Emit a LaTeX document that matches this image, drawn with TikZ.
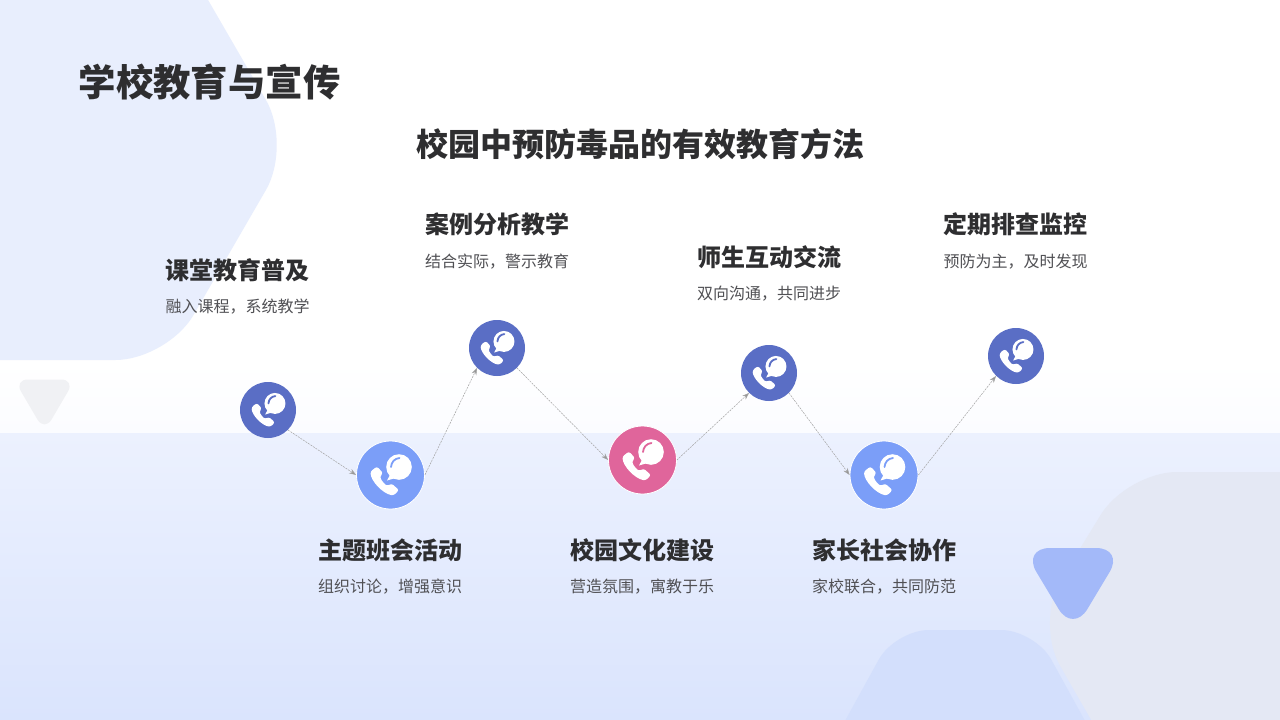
\documentclass[tikz,border=0pt]{standalone}
\usepackage{fontspec}
\setmainfont{Noto Sans CJK SC}
\usetikzlibrary{arrows.meta}
\definecolor{darkblue}{HTML}{5A6EC5}
\definecolor{lightblue}{HTML}{7B9EF8}
\definecolor{pinkc}{HTML}{E0659B}
\definecolor{inkc}{HTML}{2E2E30}
\definecolor{descc}{HTML}{505054}
\definecolor{bgA}{HTML}{FBFCFF}
\definecolor{bgB}{HTML}{ECF1FE}
\definecolor{bgC}{HTML}{DAE4FD}
\definecolor{hexB}{HTML}{E8EEFD}
\definecolor{hexC}{HTML}{E4E8F4}
\definecolor{hexD}{HTML}{D3DFFC}
\definecolor{triA}{HTML}{F0F1F4}
\definecolor{triB}{HTML}{A3B9F9}
\tikzset{
  titletext/.style={inner sep=0pt,text=inkc,font=\fontsize{37.4}{37.4}\selectfont\bfseries},
  subtext/.style={inner sep=0pt,text=inkc,font=\fontsize{32}{32}\selectfont\bfseries},
  headtext/.style={inner sep=0pt,text=inkc,font=\fontsize{24}{24}\selectfont\bfseries},
  desctext/.style={inner sep=0pt,text=descc,font=\fontsize{16}{16}\selectfont},
  smalldot/.style={circle,fill=darkblue,minimum size=56pt,inner sep=0pt},
  bigdot/.style={circle,draw=white,line width=0.8pt,minimum size=68pt,inner sep=0pt},
  link/.style={draw=black!36,line width=0.5pt,dash pattern=on 2pt off 1pt,-{Stealth[length=7pt,width=5pt,fill=black!42]}}
}
\newcommand{\phoneat}[3]{%
  \begin{scope}[shift={(#1.center)},scale=#2]
    \fill[white] (8.5,-8) circle (12.8);
    \fill[white] (0,-1) -- (-3.5,5.5) -- (5,3) -- cycle;
    \draw[#3,line width=1.8pt,line cap=round] (0.5,-8) .. controls (1,-13) and (4,-16.5) .. (9,-17);
    \fill[white,rounded corners=2.2pt] (-13.5,-8.5) -- (-20,-3.5) .. controls (-19.5,6) and (-8,18.5) .. (3,20.5) -- (8.5,15) -- (1,8.5) -- (-3,11) .. controls (-6,9) and (-9,5.5) .. (-10.5,1.5) -- (-7.5,-2) -- cycle;
  \end{scope}}
\begin{document}
\begin{tikzpicture}[x=1pt,y=-1pt]
\useasboundingbox (0,0) rectangle (1280,720);
% background
\fill[white] (0,0) rectangle (1280,360);
\fill[top color=white,bottom color=bgA] (0,360) rectangle (1280,433);
\fill[top color=bgB,bottom color=bgC] (0,433) rectangle (1280,720);
% decorative shapes
\begin{scope}
\clip (0,0) rectangle (1280,720);
\fill[hexB,rounded corners=52pt]
  (-100,-110) -- (144.4,-110) -- (292,145) -- (167.5,360) -- (-100,360) -- cycle;
\fill[hexC,rounded corners=50pt]
  (1400,472) -- (1127,472) -- (1035,622) -- (1120,770) -- (1400,770) -- cycle;
\fill[hexD,rounded corners=34pt]
  (818,770) -- (895,630) -- (1035,630) -- (1112,770) -- cycle;
\end{scope}
\fill[triA,rounded corners=14pt] (14,379.5) -- (75,379.5) -- (44.5,431.5) -- cycle;
\fill[triB,rounded corners=28pt] (1022,548) -- (1124,548) -- (1073,633) -- cycle;
% circles
\node[smalldot] (n1) at (268,410) {};
\node[bigdot,fill=lightblue] (n2) at (390.5,475) {};
\node[smalldot] (n3) at (497,348) {};
\node[bigdot,fill=pinkc] (n4) at (642.5,460) {};
\node[smalldot] (n5) at (769,373) {};
\node[bigdot,fill=lightblue] (n6) at (884,475) {};
\node[smalldot] (n7) at (1016,356) {};
% connectors
\draw[link] (n1.-45) -- (n2.west);
\draw[link] (n2.east) -- (n3.-135);
\draw[link] (n3.-45) -- (n4.west);
\draw[link] (n4.east) -- (n5.-135);
\draw[link] (n5.-45) -- (n6.west);
\draw[link] (n6.east) -- (n7.-135);
% icons
\phoneat{n1}{0.82}{darkblue}
\phoneat{n2}{1}{lightblue}
\phoneat{n3}{0.82}{darkblue}
\phoneat{n4}{1}{pinkc}
\phoneat{n5}{0.82}{darkblue}
\phoneat{n6}{1}{lightblue}
\phoneat{n7}{0.82}{darkblue}
% text
\node[titletext,anchor=west] (title) at (78.5,82) {学校教育与宣传};
\node[subtext] (sub) at (640,144) {校园中预防毒品的有效教育方法};
\node[headtext] (h1) at (237.5,270) {课堂教育普及};
\node[desctext] (d1) at (237.5,307) {融入课程，系统教学};
\node[headtext] (h2) at (390,550) {主题班会活动};
\node[desctext] (d2) at (390,587) {组织讨论，增强意识};
\node[headtext] (h3) at (497,224) {案例分析教学};
\node[desctext] (d3) at (497,262) {结合实际，警示教育};
\node[headtext] (h4) at (642,550) {校园文化建设};
\node[desctext] (d4) at (642,587) {营造氛围，寓教于乐};
\node[headtext] (h5) at (769,257) {师生互动交流};
\node[desctext] (d5) at (769,294) {双向沟通，共同进步};
\node[headtext] (h6) at (884,550) {家长社会协作};
\node[desctext] (d6) at (884,587) {家校联合，共同防范};
\node[headtext] (h7) at (1015.5,224) {定期排查监控};
\node[desctext] (d7) at (1015.5,262) {预防为主，及时发现};
\end{tikzpicture}
\end{document}
